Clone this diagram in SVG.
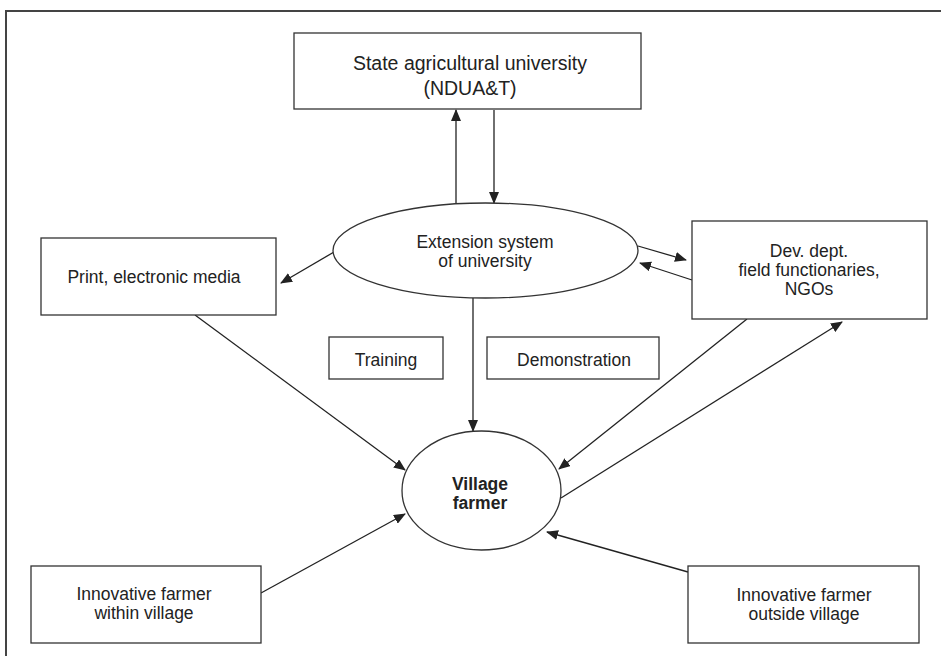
<svg xmlns="http://www.w3.org/2000/svg" width="941" height="656" viewBox="0 0 941 656">
<defs>
<marker id="ah" markerWidth="12" markerHeight="10" refX="11" refY="5" orient="auto" markerUnits="userSpaceOnUse">
<path d="M0,0 L12,5 L0,10 Z" fill="#222"/>
</marker>
<style>
.box{fill:#fff;stroke:#333;stroke-width:1.3}
.t{font-family:"Liberation Sans",Arial,sans-serif;font-size:17.5px;fill:#222;text-anchor:middle}
.b{font-weight:bold}
.c{stroke:#222;stroke-width:1.3;fill:none;marker-end:url(#ah)}
</style>
</defs>
<rect width="941" height="656" fill="#fff"/>
<path d="M6,656 V11 H941" fill="none" stroke="#444" stroke-width="2"/>
<g id="connectors">
<line class="c" x1="456" y1="203" x2="456" y2="110"/>
<line class="c" x1="494" y1="110" x2="494" y2="203"/>
<line class="c" x1="334" y1="252" x2="281" y2="283"/>
<line class="c" x1="638" y1="246" x2="686" y2="260"/>
<line class="c" x1="692" y1="280" x2="640" y2="263"/>
<line class="c" x1="473" y1="298" x2="473" y2="431"/>
<line class="c" x1="195" y1="315" x2="405" y2="470"/>
<line class="c" x1="747" y1="319" x2="559" y2="469"/>
<line class="c" x1="561" y1="498" x2="842" y2="322"/>
<line class="c" x1="261" y1="593" x2="405" y2="514"/>
<line class="c" x1="688" y1="572" x2="547" y2="532"/>
</g>
<g id="university">
<rect class="box" x="294" y="33" width="347" height="76"/>
<text class="t" x="470" y="70" style="font-size:19.5px">State agricultural university</text>
<text class="t" x="470" y="95" style="font-size:19.5px">(NDUA&amp;T)</text>
</g>
<g id="extension">
<ellipse class="box" cx="485.5" cy="250.5" rx="152.5" ry="47.5"/>
<text class="t" x="485" y="248">Extension system</text>
<text class="t" x="485" y="267">of university</text>
</g>
<g id="media">
<rect class="box" x="41" y="238" width="235" height="77"/>
<text class="t" x="154" y="283">Print, electronic media</text>
</g>
<g id="devdept">
<rect class="box" x="692" y="221" width="235" height="98"/>
<text class="t" x="809" y="257">Dev. dept.</text>
<text class="t" x="809" y="276">field functionaries,</text>
<text class="t" x="809" y="295">NGOs</text>
</g>
<g id="training">
<rect class="box" x="329" y="337" width="114" height="42"/>
<text class="t" x="386" y="366">Training</text>
</g>
<g id="demonstration">
<rect class="box" x="487" y="337" width="172" height="42"/>
<text class="t" x="574" y="366">Demonstration</text>
</g>
<g id="village">
<ellipse class="box" cx="481.5" cy="490.5" rx="79.5" ry="59.5"/>
<text class="t b" x="480" y="490">Village</text>
<text class="t b" x="480" y="509">farmer</text>
</g>
<g id="within">
<rect class="box" x="31" y="566" width="230" height="77"/>
<text class="t" x="144" y="600">Innovative farmer</text>
<text class="t" x="144" y="619">within village</text>
</g>
<g id="outside">
<rect class="box" x="688" y="566" width="231" height="77"/>
<text class="t" x="804" y="601">Innovative farmer</text>
<text class="t" x="804" y="620">outside village</text>
</g>
</svg>
